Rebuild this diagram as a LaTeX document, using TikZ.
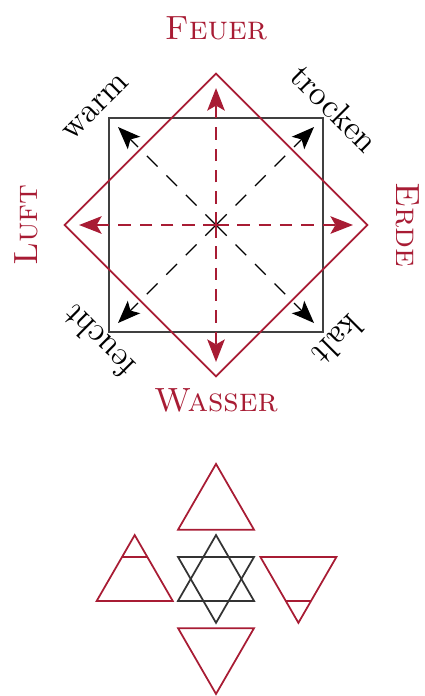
\documentclass[tikz,border=0pt]{standalone}
\usetikzlibrary{arrows.meta,calc}
\definecolor{elemred}{RGB}{168,28,52}

\begin{document}
\begin{tikzpicture}[
  x=1.5cm,y=1.5cm,
  elem/.style={text=elemred,font=\fontsize{13.4}{16}\selectfont,inner sep=0pt},
  qual/.style={font=\fontsize{13.6}{16}\selectfont,inner sep=0pt},
  sqline/.style={draw=black!75,line width=0.7pt},
  redline/.style={draw=elemred,line width=0.7pt},
  redarr/.style={elemred,line width=0.7pt,dash pattern=on 5pt off 3.5pt,
                 -{Stealth[length=9pt,width=7pt,inset=2pt]}},
  blkarr/.style={black,line width=0.5pt,dash pattern=on 6pt off 5pt,
                 -{Stealth[length=9pt,width=7pt,inset=2pt]}},
  hexline/.style={draw=black!80,line width=0.7pt},
]
\useasboundingbox (-2.019,-4.402) rectangle (1.944,2.103);

% ---- square of qualities and diamond of elements ----
\coordinate (c) at (0,0);
\draw[sqline] (-1,-1) rectangle (1,1);
\draw[redline] (0,1.414) -- (1.414,0) -- (0,-1.414) -- (-1.414,0) -- cycle;

\coordinate (fire)  at (0,1.28);
\coordinate (earth) at (1.28,0);
\coordinate (water) at (0,-1.28);
\coordinate (air)   at (-1.28,0);
\coordinate (wa) at (-0.916,0.916);
\coordinate (tr) at (0.916,0.916);
\coordinate (ka) at (0.916,-0.916);
\coordinate (fe) at (-0.916,-0.916);

\draw[blkarr] (c) -- (wa);
\draw[blkarr] (c) -- (tr);
\draw[blkarr] (c) -- (ka);
\draw[blkarr] (c) -- (fe);
\draw[redarr] (c) -- (fire);
\draw[redarr] (c) -- (earth);
\draw[redarr] (c) -- (water);
\draw[redarr] (c) -- (air);

% ---- labels ----
\node[elem] (feuer)  at (0,1.84)  {\textsc{Feuer}};
\node[elem,rotate=-90] (erde) at (1.79,0) {\textsc{Erde}};
\node[elem] (wasser) at (0,-1.64) {\textsc{Wasser}};
\node[elem,rotate=90] (luft) at (-1.77,0) {\textsc{Luft}};

\node[qual,rotate=45]   (warm)    at (-1.12,1.10)  {warm};
\node[qual,rotate=-45]  (trocken) at (1.11,1.09)   {trocken};
\node[qual,rotate=-135] (kalt)    at (1.14,-1.08)  {kalt};
\node[qual,rotate=135]  (feucht)  at (-1.10,-1.09) {feucht};

% ---- element symbols ----
\coordinate (hex) at (0,-3.308);
\coordinate (tfire)  at ($(hex)+(0,0.665)$);
\coordinate (twater) at ($(hex)+(0,-0.665)$);
\coordinate (tair)   at ($(hex)+(-0.76,0)$);
\coordinate (tearth) at ($(hex)+(0.77,0)$);

\draw[hexline] (hex) +(0,0.41) -- +(-0.355,-0.205) -- +(0.355,-0.205) -- cycle;
\draw[hexline] (hex) +(0,-0.41) -- +(-0.355,0.205) -- +(0.355,0.205) -- cycle;

\draw[redline] (tfire) +(0,0.41) -- +(-0.355,-0.205) -- +(0.355,-0.205) -- cycle;
\draw[redline] (twater) +(0,-0.41) -- +(-0.355,0.205) -- +(0.355,0.205) -- cycle;
\draw[redline] (tair) +(0,0.41) -- +(-0.355,-0.205) -- +(0.355,-0.205) -- cycle;
\draw[redline] (tair) +(-0.118,0.205) -- +(0.118,0.205);
\draw[redline] (tearth) +(0,-0.41) -- +(-0.355,0.205) -- +(0.355,0.205) -- cycle;
\draw[redline] (tearth) +(-0.118,-0.205) -- +(0.118,-0.205);
\end{tikzpicture}
\end{document}
